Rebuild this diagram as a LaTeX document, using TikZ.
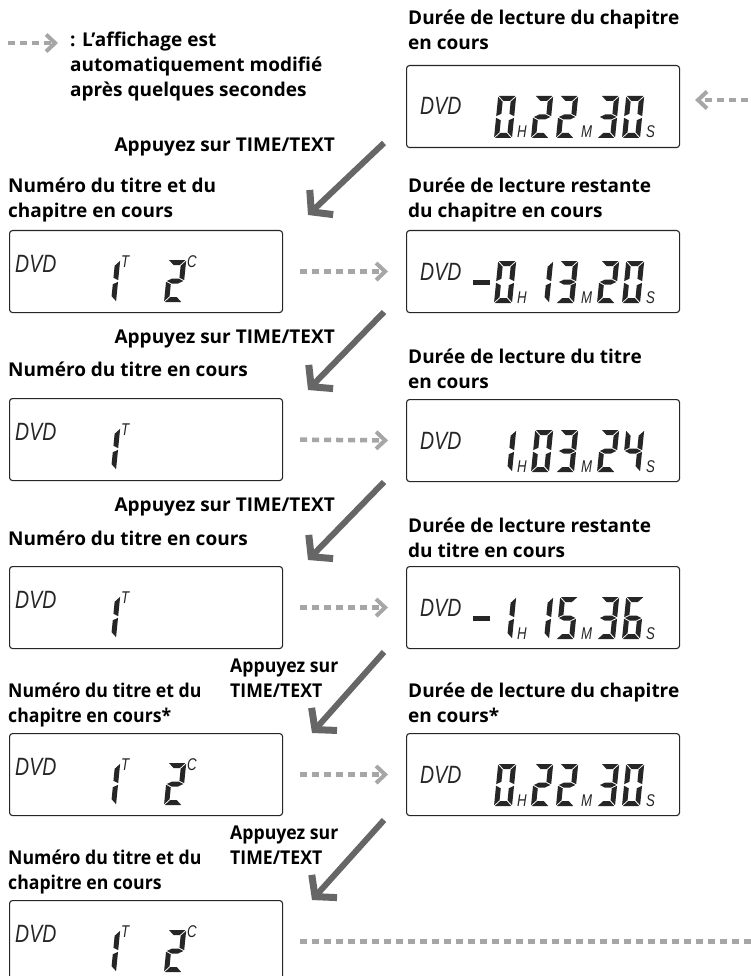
\documentclass[tikz,border=0pt]{standalone}
\usepackage{fontspec}
\setsansfont{Open Sans}
\newfontfamily\lcdfont[FakeStretch=0.78]{Liberation Sans}
\newfontfamily\condfont[FakeStretch=0.93]{Open Sans}
\usetikzlibrary{positioning,arrows.meta}

\newcommand\labelfont{\sffamily\bfseries\fontsize{19}{25}\selectfont}
\newcommand\condlabelfont{\condfont\bfseries\fontsize{19}{25}\selectfont}

% LCD segments (digit cell 18 x 42, y up)
\newcommand\lcdsega{\fill (0.8,42) -- (17.2,42) -- (12.2,37) -- (5.8,37) -- cycle;}
\newcommand\lcdsegb{\fill (18,41.2) -- (13,36.2) -- (13,24.3) -- (18,21.8) -- cycle;}
\newcommand\lcdsegc{\fill (18,0.8) -- (13,5.8) -- (13,17.7) -- (18,20.2) -- cycle;}
\newcommand\lcdsegd{\fill (0.8,0) -- (17.2,0) -- (12.2,5) -- (5.8,5) -- cycle;}
\newcommand\lcdsege{\fill (0,0.8) -- (5,5.8) -- (5,17.7) -- (0,20.2) -- cycle;}
\newcommand\lcdsegf{\fill (0,41.2) -- (5,36.2) -- (5,24.3) -- (0,21.8) -- cycle;}
\newcommand\lcdsegg{\fill (0.8,21) -- (5.8,23.5) -- (12.2,23.5) -- (17.2,21) -- (12.2,18.5) -- (5.8,18.5) -- cycle;}

% seven-segment digit #3, lower left corner at (#1,#2)
\newcommand\lcdnum[3]{%
  \ifcase#3\relax \def\lcdlist{a,b,c,d,e,f}%
  \or \def\lcdlist{b,c}%
  \or \def\lcdlist{a,b,g,e,d}%
  \or \def\lcdlist{a,b,g,c,d}%
  \or \def\lcdlist{b,c,f,g}%
  \or \def\lcdlist{a,f,g,c,d}%
  \or \def\lcdlist{a,f,g,e,c,d}%
  \or \def\lcdlist{a,b,c}%
  \or \def\lcdlist{a,b,c,d,e,f,g}%
  \or \def\lcdlist{a,b,c,d,f,g}%
  \fi
  \begin{scope}[shift={(#1,#2)}, x=1pt, y=1pt, xslant=0.1]
    \foreach \s in \lcdlist {\csname lcdseg\s\endcsname}
  \end{scope}}

% time readout in box #1: minus flag #2, digits h, m m, s s
\newcommand\lcdtime[7]{%
  \begin{scope}[shift={(#1.north west)}, fill=black!85]
    \node[lcdtext] (#1-dvd) at (14,50) {DVD};
    \ifnum#2=1 \fill (67,50) rectangle (84,55);\fi
    \lcdnum{88}{73}{#3}
    \node[unittext] (#1-h) at (111,73) {H};
    \lcdnum{125}{73}{#4}
    \lcdnum{150}{73}{#5}
    \node[unittext] (#1-m) at (175,73) {M};
    \lcdnum{191}{73}{#6}
    \lcdnum{216}{73}{#7}
    \node[unittext] (#1-s) at (240,73) {S};
  \end{scope}}

% title (and chapter #2) readout in box #1
\newcommand\lcdtitle[2]{%
  \begin{scope}[shift={(#1.north west)}, fill=black!85]
    \node[lcdtext] (#1-dvd) at (6,42) {DVD};
    \lcdnum{89}{72}{1}
    \node[tctext] (#1-t) at (112,37) {T};
    \ifx\relax#2\relax\else
      \lcdnum{155}{72}{#2}
      \node[tctext] (#1-c) at (178,37) {C};
    \fi
  \end{scope}}

\begin{document}
\begin{tikzpicture}[
    x=1pt, y=-1pt,
    rowlabel/.style={font=\labelfont, align=left, inner sep=0pt, anchor=base west},
    condlabel/.style={font=\condlabelfont, align=left, inner sep=0pt, anchor=base west},
    lcdbox/.style={draw=black!85, line width=1.1pt, rounded corners=3pt,
                   minimum width=273pt, minimum height=82pt, inner sep=0pt, anchor=north west},
    lcdtext/.style={font=\lcdfont\itshape\fontsize{25}{25}\selectfont, text=black!85,
                    anchor=base west, inner sep=0pt},
    unittext/.style={font=\lcdfont\itshape\fontsize{17}{17}\selectfont, text=black!85,
                     anchor=base west, inner sep=0pt},
    tctext/.style={font=\lcdfont\itshape\fontsize{17}{17}\selectfont, text=black!85,
                   anchor=base west, inner sep=0pt},
    autoarr/.style={draw=gray!70, line width=4.5pt, dash pattern=on 7pt off 5pt,
                    -{Straight Barb[length=9pt,width=17pt,line width=4pt]}},
    autoline/.style={draw=gray!70, line width=4.5pt, dash pattern=on 7pt off 5pt},
    pressarr/.style={draw=black!60, line width=6pt,
                     -{Straight Barb[length=14pt,width=34pt,line width=7pt]}},
  ]
    \path[fill=white, use as bounding box] (0,0) rectangle (751,976);
    \clip (0,0) rectangle (751,976);

    % legend
    \coordinate (legtail) at (8,43);
    \coordinate (leghead) at (58,43);
    \draw[autoarr] (legtail) -- (leghead);
    \node[rowlabel] (legend) at (70,97) {: L’affichage est\\automatiquement modifié\\après quelques secondes};

    % displays
    \node[lcdbox] (r0) at (406,65) {};
    \node[lcdbox] (l1) at (9,230) {};
    \node[lcdbox] (r1) at (406,230) {};
    \node[lcdbox] (l2) at (9,398) {};
    \node[lcdbox] (r2) at (406,399) {};
    \node[lcdbox] (l3) at (9,566) {};
    \node[lcdbox] (r3) at (406,566) {};
    \node[lcdbox] (l4) at (9,733) {};
    \node[lcdbox] (r4) at (406,733) {};
    \node[lcdbox] (l5) at (9,900) {};

    \lcdtime{r0}{0}{0}{2}{2}{3}{0}
    \lcdtitle{l1}{2}
    \lcdtime{r1}{1}{0}{1}{3}{2}{0}
    \lcdtitle{l2}{}
    \lcdtime{r2}{0}{1}{0}{3}{2}{4}
    \lcdtitle{l3}{}
    \lcdtime{r3}{1}{1}{1}{5}{3}{6}
    \lcdtitle{l4}{2}
    \lcdtime{r4}{0}{0}{2}{2}{3}{0}
    \lcdtitle{l5}{2}

    % captions
    \node[rowlabel] (r0cap) at (408,50) {Durée de lecture du chapitre\\en cours};
    \node[rowlabel] (l1cap) at (8,218) {Numéro du titre et du\\chapitre en cours};
    \node[rowlabel] (r1cap) at (408,218) {Durée de lecture restante\\du chapitre en cours};
    \node[rowlabel] (l2cap) at (8,376) {Numéro du titre en cours};
    \node[rowlabel] (r2cap) at (408,388) {Durée de lecture du titre\\en cours};
    \node[rowlabel] (l3cap) at (8,545) {Numéro du titre en cours};
    \node[rowlabel] (r3cap) at (408,557) {Durée de lecture restante\\du titre en cours};
    \node[condlabel] (l4cap) at (8,722) {Numéro du titre et du\\chapitre en cours*};
    \node[rowlabel] (r4cap) at (408,722) {Durée de lecture du chapitre\\en cours*};
    \node[condlabel] (l5cap) at (8,889) {Numéro du titre et du\\chapitre en cours};

    % key presses
    \node[rowlabel, anchor=base east] (press1) at (335,152) {Appuyez sur TIME/TEXT};
    \node[rowlabel, anchor=base east] (press2) at (335,343) {Appuyez sur TIME/TEXT};
    \node[rowlabel, anchor=base east] (press3) at (335,511) {Appuyez sur TIME/TEXT};
    \node[condlabel] (press4) at (230,697) {Appuyez sur\\TIME/TEXT};
    \node[condlabel] (press5) at (230,864) {Appuyez sur\\TIME/TEXT};

    \coordinate (p1s) at (384,143); \coordinate (p1e) at (308,215);
    \coordinate (p2s) at (384,312); \coordinate (p2e) at (308,390);
    \coordinate (p3s) at (384,482); \coordinate (p3e) at (308,560);
    \coordinate (p4s) at (384,652); \coordinate (p4e) at (312,733);
    \coordinate (p5s) at (384,820); \coordinate (p5e) at (312,900);
    \draw[pressarr] (p1s) -- (p1e);
    \draw[pressarr] (p2s) -- (p2e);
    \draw[pressarr] (p3s) -- (p3e);
    \draw[pressarr] (p4s) -- (p4e);
    \draw[pressarr] (p5s) -- (p5e);

    % automatic changes
    \draw[autoarr, shorten <=17pt, shorten >=18pt] (l1.east) -- (r1.west);
    \draw[autoarr, shorten <=17pt, shorten >=18pt] (l2.east) -- (r2.west);
    \draw[autoarr, shorten <=17pt, shorten >=18pt] (l3.east) -- (r3.west);
    \draw[autoarr, shorten <=17pt, shorten >=18pt] (l4.east) -- (r4.west);
    \coordinate (loopout) at (760,940);
    \coordinate (loopin) at (760,100);
    \draw[autoline, shorten <=17pt] (l5.east) -- (l5.east -| loopout);
    \draw[autoarr, shorten >=15pt] (loopin) -- (r0.east |- loopin);
\end{tikzpicture}
\end{document}
